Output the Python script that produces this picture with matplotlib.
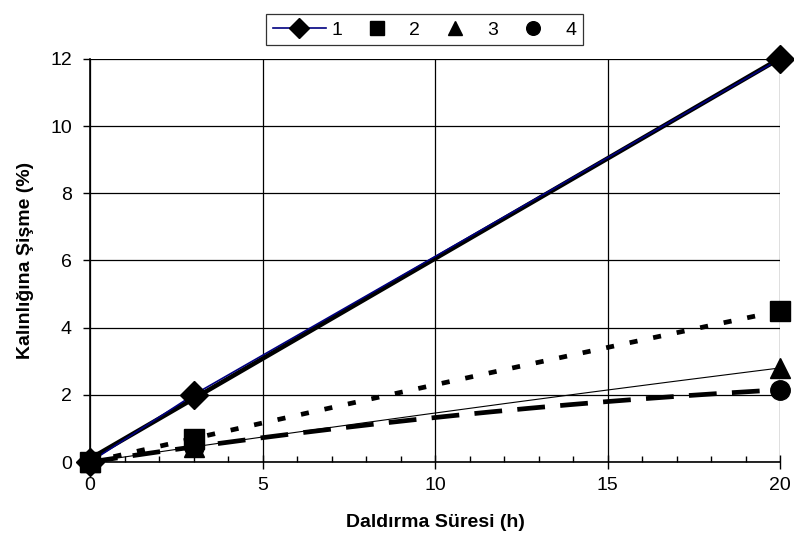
import numpy as np
import matplotlib
matplotlib.use("Agg")
import matplotlib.pyplot as plt
from matplotlib.ticker import MultipleLocator

plt.rcParams['font.family'] = ['Liberation Sans', 'DejaVu Sans']
plt.rcParams['lines.scale_dashes'] = False

# data
hours = [0, 3, 20]
s1 = [0, 2.0, 12.0]
s2 = [0, 0.7, 4.5]
s3 = [0, 0.45, 2.8]
s4 = [0, 0.45, 2.15]
labels = ['1', '2', '3', '4']

fig = plt.figure(figsize=(7.94, 5.51), dpi=100)
ax = fig.add_axes([0.1134, 0.1615, 0.8690, 0.7315])

xs = np.linspace(0, 20, 200)

def trend(y, deg=2):
    # excel-like polynomial trendline
    return np.polyval(np.polyfit(hours, y, deg), xs)

# series 1: thin navy connecting line + thick black linear trendline
h1, = ax.plot(hours, s1, color='#000080', lw=1.2, marker='D', ms=14,
              mfc='black', mec='black', zorder=3, clip_on=False)
ax.plot(xs, trend(s1, 1), color='black', lw=3.3, solid_capstyle='butt', zorder=2)

# series 2: dotted trendline
ax.plot(xs, trend(s2), color='black', lw=3.4, linestyle=(0, (5.8, 11.5)),
        dash_capstyle='butt', zorder=2)
h2, = ax.plot(hours, s2, ls='none', marker='s', ms=14, color='black', zorder=4, clip_on=False)

# series 3: thin solid trendline
ax.plot(xs, trend(s3), color='black', lw=0.8, zorder=2)
h3, = ax.plot(hours, s3, ls='none', marker='^', ms=15, color='black', zorder=4, clip_on=False)

# series 4: dashed trendline
ax.plot(xs, trend(s4), color='black', lw=3.4, linestyle=(0, (20, 11)),
        dash_capstyle='butt', zorder=2)
h4, = ax.plot(hours, s4, ls='none', marker='o', ms=14, color='black', zorder=4, clip_on=False)

ax.set_xlim(0, 20)
ax.set_ylim(0, 12)
ax.xaxis.set_major_locator(MultipleLocator(5))
ax.xaxis.set_minor_locator(MultipleLocator(1))
ax.yaxis.set_major_locator(MultipleLocator(2))
ax.grid(True, which='major', color='black', lw=0.9)
ax.set_axisbelow(True)

ax.tick_params(axis='x', which='major', direction='inout', length=10, width=1, labelsize=14, pad=6)
ax.tick_params(axis='x', which='minor', direction='in', length=4, width=1)
ax.tick_params(axis='y', which='major', direction='out', length=5, width=1, labelsize=14, pad=8)

for side in ['top', 'right']:
    ax.spines[side].set_visible(False)
for side in ['left', 'bottom']:
    ax.spines[side].set_linewidth(1.2)

ax.set_xlabel('Daldırma Süresi (h)', fontsize=14, fontweight='bold', labelpad=14)
ax.set_ylabel('Kalınlığına Şişme (%)', fontsize=14, fontweight='bold', labelpad=12)

leg = fig.legend([h1, h2, h3, h4], labels, loc='upper center', ncol=4,
                 bbox_to_anchor=(0.535, 0.992), fontsize=14, frameon=True,
                 fancybox=False, edgecolor='black', markerscale=0.7,
                 handlelength=2.7, handletextpad=0.3, columnspacing=0.45,
                 borderpad=0.35)
leg.get_frame().set_linewidth(0.9)

fig.savefig('out.png', dpi=100)
